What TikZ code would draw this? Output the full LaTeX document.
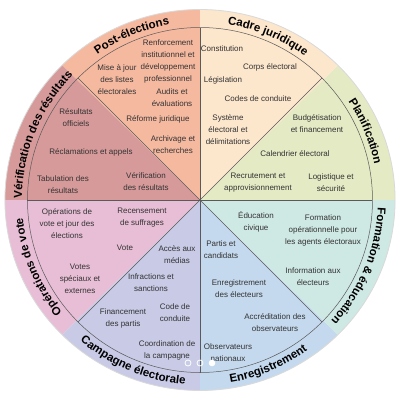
\documentclass[tikz,border=0pt]{standalone}
\usepackage{fontspec}
\setmainfont{Liberation Sans}
\usetikzlibrary{decorations.text}
\definecolor{postcol}{HTML}{F5B9A0}
\definecolor{verifcol}{HTML}{D79A9A}
\definecolor{cadrecol}{HTML}{FCE6CC}
\definecolor{plancol}{HTML}{E4EAC4}
\definecolor{formcol}{HTML}{CEE8E4}
\definecolor{enregcol}{HTML}{C5D9EE}
\definecolor{campcol}{HTML}{C8CAE6}
\definecolor{opcol}{HTML}{E8BED6}
\definecolor{txtgray}{HTML}{333333}
\definecolor{linegray}{HTML}{5A5A5A}
\newcommand\titlefont{\fontsize{11.5}{12}\selectfont\bfseries}
\begin{document}
\begin{tikzpicture}[x=1pt,y=1pt,
    entry/.style={align=center,font=\fontsize{8}{12}\selectfont,text=txtgray,inner sep=0pt},
    divider/.style={draw=linegray,line width=0.5pt},
    heading/.style={decorate,decoration={text along path,text align=center,text={|\titlefont|#1}}}]
  \useasboundingbox[fill=white] (-200,-200) rectangle (200,200);
  % sectors
  \begin{scope}[xscale=1.024]
    \fill[plancol] (0,0) -- (0:190.5) arc[start angle=0,end angle=45,radius=190.5] -- cycle;
    \fill[cadrecol] (0,0) -- (45:190.5) arc[start angle=45,end angle=90,radius=190.5] -- cycle;
    \fill[postcol] (0,0) -- (90:190.5) arc[start angle=90,end angle=135,radius=190.5] -- cycle;
    \fill[verifcol] (0,0) -- (135:190.5) arc[start angle=135,end angle=180,radius=190.5] -- cycle;
    \fill[opcol] (0,0) -- (180:190.5) arc[start angle=180,end angle=225,radius=190.5] -- cycle;
    \fill[campcol] (0,0) -- (225:190.5) arc[start angle=225,end angle=270,radius=190.5] -- cycle;
    \fill[enregcol] (0,0) -- (270:190.5) arc[start angle=270,end angle=315,radius=190.5] -- cycle;
    \fill[formcol] (0,0) -- (315:190.5) arc[start angle=315,end angle=360,radius=190.5] -- cycle;
    \draw[gray!30,line width=0.8pt] (0,0) circle[radius=190.5];
  \end{scope}
  \draw[divider] (0,0) circle[radius=172.5];
  \begin{scope}[divider]
    \draw (0,0) -- (0:172.5);
    \draw (0,0) -- (45:172.5);
    \draw (0,0) -- (90:172.5);
    \draw (0,0) -- (135:172.5);
    \draw (0,0) -- (180:172.5);
    \draw (0,0) -- (225:172.5);
    \draw (0,0) -- (270:172.5);
    \draw (0,0) -- (315:172.5);
  \end{scope}
  % ring titles
  \path[heading=Post-élections] (147.5:178) arc[start angle=147.5,end angle=77.5,radius=178];
  \path[heading=Cadre juridique] (102.5:178) arc[start angle=102.5,end angle=32.5,radius=178];
  \path[heading=Planification] (57.5:178) arc[start angle=57.5,end angle=-12.5,radius=178];
  \path[heading=Formation {\&} éducation] (12.5:178) arc[start angle=12.5,end angle=-57.5,radius=178];
  \path[heading=Enregistrement] (-102.5:185) arc[start angle=-102.5,end angle=-32.5,radius=185];
  \path[heading=Campagne électorale] (-147.5:185) arc[start angle=-147.5,end angle=-77.5,radius=185];
  \path[heading=Opérations de vote] (237.5:178) arc[start angle=237.5,end angle=167.5,radius=178];
  \path[heading=Vérification des résultats] (192.5:178) arc[start angle=192.5,end angle=122.5,radius=178];
  % post-elections
  \node[entry] (mise) at (-83,120) {Mise à jour\\des listes\\électorales};
  \node[entry] (renfo) at (-32,139) {Renforcement\\institutionnel et\\développement\\professionnel};
  \node[entry] (audits) at (-28,102) {Audits et\\évaluations};
  \node[entry] (reforme) at (-42,81) {Réforme juridique};
  \node[entry] (archiv) at (-27,55) {Archivage et\\recherches};
  % verification
  \node[entry] (resoff) at (-124,82) {Résultats\\officiels};
  \node[entry] (reclam) at (-109,48) {Réclamations et appels};
  \node[entry] (tabul) at (-137,15) {Tabulation des\\résultats};
  \node[entry] (verifres) at (-54,18) {Vérification\\des résultats};
  % cadre juridique
  \node[entry] (constit) at (22,151) {Constitution};
  \node[entry] (corps) at (70,133) {Corps électoral};
  \node[entry] (legis) at (23,120) {Législation};
  \node[entry] (codes) at (58,101) {Codes de conduite};
  \node[entry] (systeme) at (28,70) {Système\\électoral et\\délimitations};
  % planification
  \node[entry] (budget) at (117,76) {Budgétisation\\et financement};
  \node[entry] (calend) at (95,46) {Calendrier électoral};
  \node[entry] (recrut) at (58,17) {Recrutement et\\approvisionnement};
  \node[entry] (logist) at (131,17) {Logistique et\\sécurité};
  % operations de vote
  \node[entry] (opjour) at (-133,-24) {Opérations de\\vote et jour des\\élections};
  \node[entry] (recens) at (-58,-18) {Recensement\\de suffrages};
  \node[entry] (vote) at (-75,-48) {Vote};
  \node[entry] (speciaux) at (-120,-79) {Votes\\spéciaux et\\externes};
  % campagne
  \node[entry] (acces) at (-23,-55) {Accès aux\\médias};
  \node[entry] (infract) at (-49,-83) {Infractions et\\sanctions};
  \node[entry] (finance) at (-77,-118) {Financement\\des partis};
  \node[entry] (codecond) at (-25,-113) {Code de\\conduite};
  \node[entry] (coord) at (-33,-150) {Coordination de\\la campagne};
  % formation
  \node[entry] (educ) at (56,-22) {Éducation\\civique};
  \node[entry] (formop) at (123,-30) {Formation\\opérationnelle pour\\les agents électoraux};
  \node[entry] (info) at (113,-77) {Information aux\\électeurs};
  % enregistrement
  \node[entry] (partis) at (21,-50) {Partis et\\candidats};
  \node[entry] (enreg) at (39,-89) {Enregistrement\\des électeurs};
  \node[entry] (accred) at (75,-123) {Accréditation des\\observateurs};
  \node[entry] (observ) at (28,-153) {Observateurs\\nationaux};
  % dots
  \draw[white,line width=0.8pt] (-12,-163) circle[radius=3];
  \draw[white,line width=0.8pt] (0,-163) circle[radius=3];
  \fill[white] (12,-163) circle[radius=3.3];
\end{tikzpicture}
\end{document}
